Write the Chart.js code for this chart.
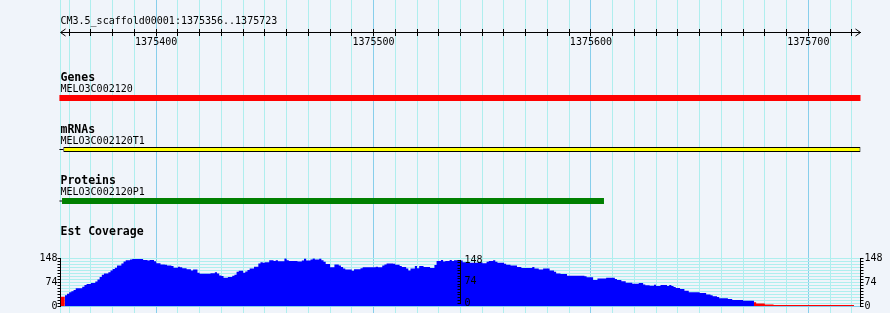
<!DOCTYPE html>
<html>
<head>
<meta charset="utf-8">
<title>CM3.5_scaffold00001:1375356..1375723</title>
<script src="https://cdn.jsdelivr.net/npm/chart.js@4.4.1/dist/chart.umd.min.js"></script>
<style>
  html, body { margin: 0; padding: 0; background: #f0f4fa; }
  #wrap { position: relative; width: 890px; height: 313px; overflow: hidden; }
  #wrap canvas { position: absolute; left: 0; }
</style>
</head>
<body>
<div id="wrap">
  <canvas id="tracks" width="890" height="313" style="top:0"></canvas>
  <canvas id="coverage" width="890" height="63" style="top:250px"></canvas>
  <canvas id="midAxis" width="890" height="63" style="top:250px"></canvas>
</div>
<script>
'use strict';

// ---- data ----
const regionTitle = 'CM3.5_scaffold00001:1375356..1375723';
const REGION_START = 1375356;
const REGION_END = 1375724;      // right edge of the last base
const MID_BP = 1375540;          // where the middle coverage scale sits

const trackNames   = ['Genes', 'mRNAs', 'Proteins', 'Est Coverage'];
const featureIds   = ['MELO3C002120', 'MELO3C002120T1', 'MELO3C002120P1'];
const featureStart = [1375355.5, 1375355.5, 1375355.5];
const bodyStart    = [1375355.5, 1375357.3, 1375356.7];   // glyph body after the strand tail
const featureEnd   = [1375724, 1375724, 1375606];

// EST coverage as runs: offset (bp from region start) where a depth begins
const covOffset = [
  0, 2, 3, 4, 5, 6, 7, 10, 11, 12, 14, 16, 17, 18, 19, 20, 22, 23, 24, 25, 26, 28, 29, 30, 32, 33, 38, 40, 41, 43,
  44, 46, 48, 49, 51, 52, 54, 55, 56, 58, 60, 61, 63, 64, 69, 71, 72, 73, 74, 75, 77, 79, 80, 81, 82, 84, 85, 86, 87, 89,
  91, 92, 93, 94, 96, 98, 99, 100, 103, 104, 105, 109, 111, 112, 113, 115, 116, 117, 119, 120, 121, 122, 124, 126, 128, 129, 130, 131, 134, 135,
  138, 139, 145, 146, 148, 149, 150, 153, 154, 156, 157, 159, 160, 161, 163, 164, 165, 167, 170, 172, 173, 175, 176, 177, 179, 180, 181, 183,
  185, 188, 192, 194, 196, 197, 199, 200, 201, 204, 205, 207, 210, 212, 217, 218, 220, 222, 225, 227, 228, 230, 233, 241, 242, 245,
  247, 251, 255, 256, 258, 260, 263, 266, 268, 269, 271, 273, 274, 276, 279, 280, 281, 282, 283, 285, 287, 289, 294, 297, 299, 300,
  302, 303, 307, 309, 314, 319, 320, 324, 328, 338
];
const covDepth = [
  16, 29, 33, 38, 43, 46, 50, 55, 60, 65, 68, 71, 76, 82, 90, 97, 101, 105, 110, 115, 119, 126, 132, 138, 142, 144, 146, 143, 141, 143,
  139, 133, 129, 128, 126, 124, 119, 122, 120, 117, 114, 110, 113, 103, 100, 102, 105, 101, 95, 93, 88, 90, 94, 97, 106, 109, 103, 107, 112, 116,
  122, 132, 136, 134, 136, 142, 140, 142, 139, 148, 142, 140, 138, 141, 147, 141, 144, 148, 144, 147, 142, 137, 130, 120, 129, 126, 121, 116, 113, 109,
  114, 117, 120, 122, 120, 126, 129, 132, 131, 128, 124, 121, 116, 110, 116, 124, 117, 124, 121, 118, 127, 140, 143, 138, 140, 143, 140, 142,
  141, 136, 134, 136, 133, 137, 140, 142, 137, 134, 131, 128, 126, 121, 118, 121, 116, 113, 116, 110, 106, 101, 99, 94, 92, 89,
  81, 85, 88, 84, 81, 77, 72, 69, 71, 67, 64, 63, 66, 62, 65, 62, 65, 62, 59, 56, 53, 47, 43, 40, 36, 33,
  30, 28, 24, 22, 19, 16, 12, 8, 5, 3
];
const COV_END = 365;               // offset where the last run stops
const covTickLabels = [0, 74, 148];
const COV_MAX = 148;
const COV_STEP = 9.25;
const LOW_COVERAGE = 18;           // runs below this are drawn red

// ---- layout / style ----
const RULER_Y = 32;
const TRACK_ROW_Y = [98, 149.5, 201];
const TRACK_TITLE_Y = [80.5, 132.5, 183.5, 234.5];
const FEATURE_NAME_Y = [91.5, 144, 195];
const TITLE_Y = 24;

const GRID_MINOR = '#afeeee';
const GRID_MAJOR = '#87ceeb';
const MONO = "'DejaVu Sans Mono', 'Liberation Mono', monospace";
const SMALL_FONT = '10px ' + MONO;
const BOLD_FONT = 'bold 11.5px ' + MONO;

const rulerDecor = {
  id: 'rulerDecor',
  afterDraw(chart) {
    const {ctx} = chart;
    const xs = chart.scales.x, ys = chart.scales.y;
    const yr = Math.round(ys.getPixelForValue(RULER_Y)) + 0.5;
    const l = xs.left, r = xs.right;
    ctx.save();
    ctx.strokeStyle = '#000';
    ctx.lineWidth = 1;
    ctx.beginPath();
    ctx.moveTo(l + 5, yr - 3.5); ctx.lineTo(l, yr); ctx.lineTo(l + 5, yr + 3.5);
    ctx.moveTo(r - 5, yr - 3.5); ctx.lineTo(r, yr); ctx.lineTo(r - 5, yr + 3.5);
    ctx.stroke();

    ctx.fillStyle = '#000';
    ctx.textAlign = 'left';
    ctx.textBaseline = 'alphabetic';
    ctx.font = SMALL_FONT;
    ctx.fillText(regionTitle, l, ys.getPixelForValue(TITLE_Y));
    trackNames.forEach((name, k) => {
      ctx.font = BOLD_FONT;
      ctx.fillText(name, l, ys.getPixelForValue(TRACK_TITLE_Y[k]));
      if (featureIds[k]) {
        ctx.font = SMALL_FONT;
        ctx.fillText(featureIds[k], l, ys.getPixelForValue(FEATURE_NAME_Y[k]));
      }
    });
    ctx.restore();
  }
};

function trackBar(k, range, color, thickness, border) {
  return {
    indexAxis: 'y', xAxisID: 'x', yAxisID: 'y',
    grouped: false, clip: false, inflateAmount: 0,
    barThickness: thickness, maxBarThickness: thickness,
    backgroundColor: color,
    borderColor: '#000', borderWidth: border || 0, borderSkipped: false,
    data: [{y: TRACK_ROW_Y[k], x: range}]
  };
}

const tracksChart = new Chart(document.getElementById('tracks'), {
  type: 'bar',
  data: {
    datasets: [
      trackBar(0, [featureStart[0], featureEnd[0]], '#ff0000', 6),
      trackBar(1, [featureStart[1], bodyStart[1]], '#000000', 1),
      trackBar(1, [bodyStart[1], featureEnd[1]], '#ffff00', 5, 1),
      trackBar(2, [featureStart[2], bodyStart[2]], '#000000', 1),
      trackBar(2, [bodyStart[2], featureEnd[2]], '#008000', 6)
    ]
  },
  options: {
    responsive: false, animation: false, devicePixelRatio: 1, events: [],
    layout: { padding: { left: 60.5, right: 29.5, top: 0, bottom: 0 } },
    plugins: { legend: { display: false }, tooltip: { enabled: false } },
    scales: {
      x: {
        type: 'linear', axis: 'x', min: REGION_START, max: REGION_END,
        offset: false, position: { y: RULER_Y },
        grid: {
          offset: false, lineWidth: 1, tickLength: 3, tickColor: '#000',
          color: c => (c.tick.value % 100 === 0 ? GRID_MAJOR : GRID_MINOR)
        },
        border: { color: '#000', width: 1 },
        ticks: {
          stepSize: 10, includeBounds: false, autoSkip: false, maxRotation: 0,
          padding: 1, color: '#000', font: { family: MONO, size: 10 },
          callback: v => (v % 100 === 0 ? String(v) : '')
        }
      },
      xUp: {
        type: 'linear', axis: 'x', min: REGION_START, max: REGION_END,
        offset: false, position: { y: RULER_Y },
        grid: { offset: false, drawOnChartArea: false, tickLength: -3, tickColor: '#000' },
        border: { display: false },
        ticks: { stepSize: 10, includeBounds: false, autoSkip: false, display: false }
      },
      y: {
        type: 'linear', min: 0, max: 313, reverse: true, offset: false,
        ticks: { display: false },
        grid: { display: false, drawTicks: false, offset: false },
        border: { color: GRID_MINOR, width: 1 },
        afterFit: s => { s.width = 0; }
      }
    }
  },
  plugins: [rulerDecor]
});

// ---- EST coverage ----
const covPoints = covOffset.map((o, k) => ({ x: REGION_START + o, y: covDepth[k] }));
covPoints.push({ x: REGION_START + COV_END, y: covDepth[covDepth.length - 1] });

const covColor = v => (v < LOW_COVERAGE ? '#ff0000' : '#0000ff');
const covTicks = (side, width, extra) => Object.assign({
  position: side, min: 0, max: COV_MAX,
  afterFit: s => { s.width = width; },
  ticks: {
    stepSize: COV_STEP, autoSkip: false, padding: side === 'left' ? 0 : 1,
    color: '#000', font: { family: MONO, size: 10 },
    callback: v => (covTickLabels.includes(v) ? String(v) : '')
  },
  grid: { drawOnChartArea: false, tickLength: 3, tickColor: '#000' },
  border: { color: '#000', width: 1 }
}, extra || {});

const chartArea = tracksChart.chartArea;

new Chart(document.getElementById('coverage'), {
  type: 'line',
  data: {
    datasets: [{
      data: covPoints, xAxisID: 'x', yAxisID: 'yL',
      stepped: 'after', fill: 'origin',
      borderWidth: 0, borderColor: 'transparent', pointRadius: 0,
      backgroundColor: '#0000ff',
      segment: { backgroundColor: c => covColor(c.p0.parsed.y) }
    }]
  },
  options: {
    responsive: false, animation: false, devicePixelRatio: 1, events: [],
    layout: { padding: { left: 0, right: 0, top: 8.3, bottom: 6.7 } },
    plugins: { legend: { display: false }, tooltip: { enabled: false } },
    scales: {
      x: { type: 'linear', min: REGION_START, max: REGION_END, display: false },
      yL: covTicks('left', chartArea.left, {
        grid: {
          drawOnChartArea: true, tickLength: 3, tickColor: '#000',
          color: c => (c.tick.value === 0 ? GRID_MAJOR : GRID_MINOR)
        }
      }),
      yR: covTicks('right', 890 - chartArea.right)
    }
  }
});

// middle scale of the coverage track, labels on its right side
new Chart(document.getElementById('midAxis'), {
  type: 'line',
  data: { datasets: [] },
  options: {
    responsive: false, animation: false, devicePixelRatio: 1, events: [],
    layout: { padding: { left: 0, right: 0, top: 8.3, bottom: 6.7 } },
    plugins: { legend: { display: false }, tooltip: { enabled: false } },
    scales: {
      x: { type: 'linear', min: REGION_START, max: REGION_END, display: false },
      yM: covTicks('left', tracksChart.scales.x.getPixelForValue(MID_BP), {
        ticks: {
          stepSize: COV_STEP, autoSkip: false, mirror: true, padding: 4,
          color: '#000', font: { family: MONO, size: 10 },
          callback: v => (covTickLabels.includes(v) ? String(v) : '')
        }
      })
    }
  }
});
</script>
</body>
</html>
